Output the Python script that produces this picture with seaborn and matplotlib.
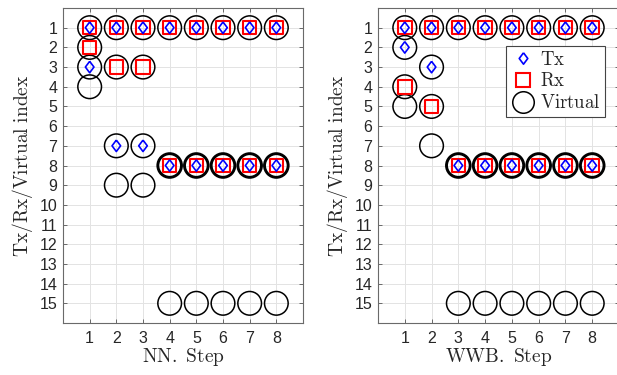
import matplotlib
matplotlib.use("Agg")
import matplotlib.pyplot as plt
import seaborn as sns
from matplotlib.lines import Line2D

# ---- data ----
steps = [1, 2, 3, 4, 5, 6, 7, 8]
y_ticks = list(range(1, 16))

# NN panel
nn_tx_x = [1, 2, 3, 4, 5, 6, 7, 8, 1, 2, 3, 4, 5, 6, 7, 8]
nn_tx_y = [1, 1, 1, 1, 1, 1, 1, 1, 3, 7, 7, 8, 8, 8, 8, 8]
nn_rx_x = [1, 2, 3, 4, 5, 6, 7, 8, 1, 2, 3, 4, 5, 6, 7, 8]
nn_rx_y = [1, 1, 1, 1, 1, 1, 1, 1, 2, 3, 3, 8, 8, 8, 8, 8]
nn_vir_x = [1, 2, 3, 4, 5, 6, 7, 8, 1, 1, 1, 2, 3, 2, 3, 2, 3, 4, 5, 6, 7, 8]
nn_vir_y = [1, 1, 1, 1, 1, 1, 1, 1, 2, 3, 4, 3, 3, 7, 7, 9, 9, 15, 15, 15, 15, 15]
nn_vir_multi_x = [4, 5, 6, 7, 8]
nn_vir_multi_y = [8, 8, 8, 8, 8]

# WWB panel
wwb_tx_x = [1, 2, 3, 4, 5, 6, 7, 8, 1, 2, 3, 4, 5, 6, 7, 8]
wwb_tx_y = [1, 1, 1, 1, 1, 1, 1, 1, 2, 3, 8, 8, 8, 8, 8, 8]
wwb_rx_x = [1, 2, 3, 4, 5, 6, 7, 8, 1, 2, 3, 4, 5, 6, 7, 8]
wwb_rx_y = [1, 1, 1, 1, 1, 1, 1, 1, 4, 5, 8, 8, 8, 8, 8, 8]
wwb_vir_x = [1, 2, 3, 4, 5, 6, 7, 8, 1, 2, 1, 1, 2, 2, 3, 4, 5, 6, 7, 8]
wwb_vir_y = [1, 1, 1, 1, 1, 1, 1, 1, 2, 3, 4, 5, 5, 7, 15, 15, 15, 15, 15, 15]
wwb_vir_multi_x = [3, 4, 5, 6, 7, 8]
wwb_vir_multi_y = [8, 8, 8, 8, 8, 8]

xlabels = ["NN. Step", "WWB. Step"]
ylabel = "Tx/Rx/Virtual index"
legend_labels = ["Tx", "Rx", "Virtual"]

# ---- style ----
sns.set_theme(style="white")
plt.rcParams["font.family"] = ["Liberation Sans", "DejaVu Sans"]
plt.rcParams["mathtext.fontset"] = "cm"

fig = plt.figure(figsize=(6.17, 3.75), dpi=100)
ax1 = fig.add_axes([63 / 617, 52 / 375, 240 / 617, 315 / 375])
ax2 = fig.add_axes([378 / 617, 52 / 375, 241 / 617, 315 / 375])

DIAMOND = [(0, 1), (0.75, 0), (0, -1), (-0.75, 0), (0, 1)]
S_CIR = 290
S_SQ = 95
S_DI = 68

panels = [
    (ax1, nn_tx_x, nn_tx_y, nn_rx_x, nn_rx_y, nn_vir_x, nn_vir_y, nn_vir_multi_x, nn_vir_multi_y),
    (ax2, wwb_tx_x, wwb_tx_y, wwb_rx_x, wwb_rx_y, wwb_vir_x, wwb_vir_y, wwb_vir_multi_x, wwb_vir_multi_y),
]

for i, (ax, tx_x, tx_y, rx_x, rx_y, v_x, v_y, vm_x, vm_y) in enumerate(panels):
    ax.grid(True, color="#e3e3e3", linewidth=0.7)
    ax.set_axisbelow(True)
    sns.scatterplot(x=v_x, y=v_y, ax=ax, marker="o", s=S_CIR, facecolor="none",
                    edgecolor="black", linewidth=1.1, zorder=3)
    sns.scatterplot(x=vm_x, y=vm_y, ax=ax, marker="o", s=S_CIR, facecolor="none",
                    edgecolor="black", linewidth=2.1, zorder=3)
    sns.scatterplot(x=rx_x, y=rx_y, ax=ax, marker="s", s=S_SQ, facecolor="none",
                    edgecolor="#ff0000", linewidth=1.5, zorder=4)
    sns.scatterplot(x=tx_x, y=tx_y, ax=ax, marker=DIAMOND, s=S_DI, facecolor="none",
                    edgecolor="#0000ff", linewidth=1.2, zorder=5)
    ax.set_xlim(0, 9)
    ax.set_ylim(16, 0)
    ax.set_xticks(steps)
    ax.set_xticklabels([str(s) for s in steps])
    ax.set_yticks(y_ticks)
    ax.set_yticklabels([str(v) for v in y_ticks])
    ax.tick_params(direction="in", length=3, width=0.6, color="#555555",
                   top=True, right=True, bottom=True, left=True,
                   labelsize=11.5, labelcolor="#262626", pad=4)
    ax.tick_params(axis="x", pad=6)
    for sp in ax.spines.values():
        sp.set_color("#6a6a6a")
        sp.set_linewidth(0.8)
    ax.set_xlabel(r"$\mathrm{" + xlabels[i].replace(" ", r"\ ") + "}$",
                  fontsize=14, labelpad=0, color="#262626")
    ax.set_ylabel(r"$\mathrm{" + ylabel.replace(" ", r"\ ") + "}$",
                  fontsize=14, labelpad=3, color="#262626")

# legend on the right panel
handles = [
    Line2D([], [], linestyle="none", marker=DIAMOND, markersize=8.2, markerfacecolor="none",
           markeredgecolor="#0000ff", markeredgewidth=1.2),
    Line2D([], [], linestyle="none", marker="s", markersize=9.7, markerfacecolor="none",
           markeredgecolor="#ff0000", markeredgewidth=1.5),
    Line2D([], [], linestyle="none", marker="o", markersize=15.5, markerfacecolor="none",
           markeredgecolor="black", markeredgewidth=1.1),
]
leg = ax2.legend(handles, [r"$\mathrm{" + l + "}$" for l in legend_labels],
                 loc="upper right", bbox_to_anchor=(605 / 617, 1 - 46 / 375),
                 bbox_transform=fig.transFigure, fontsize=13.5, frameon=True,
                 fancybox=False, framealpha=1, edgecolor="#444444",
                 borderpad=0.25, handletextpad=0.25, labelspacing=0.2,
                 handlelength=1.3, borderaxespad=0)
leg.get_frame().set_linewidth(0.8)
leg.set_zorder(10)

fig.savefig("out.png", dpi=100)
